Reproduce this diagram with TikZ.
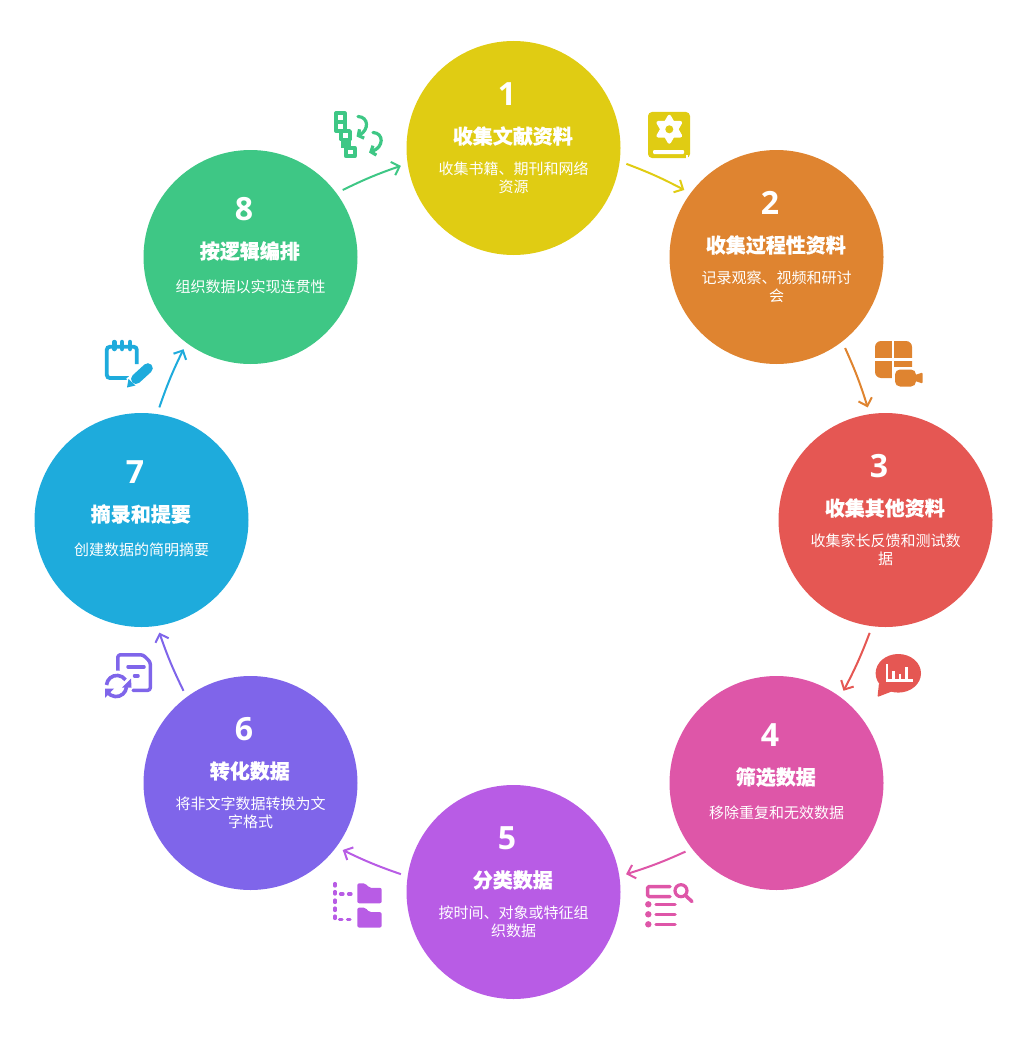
\documentclass[tikz,border=0pt]{standalone}
\usepackage{fontspec}
\setmainfont{Noto Sans CJK SC}[BoldFeatures={FakeBold=0.4}]
\newfontfamily\numfont{Open Sans}
\usetikzlibrary{arrows.meta}
\definecolor{yellow1}{HTML}{E0CC13}
\definecolor{orange1}{HTML}{DF8430}
\definecolor{red1}{HTML}{E55753}
\definecolor{pink1}{HTML}{DE56A8}
\definecolor{violet1}{HTML}{B85CE5}
\definecolor{purple1}{HTML}{7F65EA}
\definecolor{blue1}{HTML}{1EABDC}
\definecolor{green1}{HTML}{3EC785}
\tikzset{
  stepcircle/.style={circle,minimum size=214pt,inner sep=0pt,outer sep=7pt},
  numtext/.style={text=white,font=\numfont\fontsize{32}{36}\selectfont\bfseries,inner sep=0pt},
  titletext/.style={text=white,font=\fontsize{20}{24}\selectfont\bfseries,inner sep=0pt},
  desctext/.style={text=white,font=\fontsize{15}{18}\selectfont,align=center,inner sep=0pt},
  flowarrow/.style={line width=2pt,-{Straight Barb[length=7pt,width=14pt,line width=2pt]}},
  iconline/.style={line width=3.5pt,line cap=round,line join=round},
}

\begin{document}
\begin{tikzpicture}[x=1pt,y=-1pt]
  \useasboundingbox (0,0) rectangle (1028,1046);
  \foreach \n/\x/\y/\col/\dy/\title/\desc in {
    1/513.5/148/yellow1/0/收集文献资料/{收集书籍、期刊和网络\\资源},
    2/776.5/257/orange1/0/收集过程性资料/{记录观察、视频和研讨\\会},
    3/885.5/520/red1/0/收集其他资料/{收集家长反馈和测试数\\据},
    4/776.5/783/pink1/6/筛选数据/{移除重复和无效数据},
    5/513.5/892/violet1/0/分类数据/{按时间、对象或特征组\\织数据},
    6/250.5/783/purple1/0/转化数据/{将非文字数据转换为文\\字格式},
    7/141.5/520/blue1/6/摘录和提要/{创建数据的简明摘要},
    8/250.5/257/green1/6/按逻辑编排/{组织数据以实现连贯性}}
  {
    \node[stepcircle,fill=\col] (step\n) at (\x,\y) {};
    \node[numtext] (num\n) at (\x-6.5,\y-54+\dy) {\n};
    \node[titletext] (title\n) at (\x-0.7,\y-12+\dy) {\title};
    \node[desctext] (desc\n) at (\x,\y+30) {\desc};
  }
  \foreach \a/\b/\col/\out/\in in {1/2/yellow1/-8.6/144,2/3/orange1/-53.6/99,3/4/red1/-98.6/54,4/5/pink1/-143.6/9,
    5/6/violet1/171.4/-36,6/7/purple1/126.4/-81,7/8/blue1/81.4/-126,8/1/green1/36.4/189}
    \draw[flowarrow,\col] (step\a.\out) to[bend left=3.5] (step\b.\in);

  % book
  \fill[yellow1,rounded corners=4pt] (648,112) rectangle (690,158);
  \fill[white,rounded corners=1pt] (653,150) rectangle (684,154);
  \fill[white] (686,155) rectangle (687.5,159);
  \fill[white,draw=white,line width=3.5pt,line join=round] (669.3,116.5) -- (680.4,135.8) -- (658.2,135.8) -- cycle;
  \fill[white,draw=white,line width=3.5pt,line join=round] (669.3,142) -- (680.4,122.7) -- (658.2,122.7) -- cycle;
  \fill[yellow1] (669.3,129.3) circle (4);

  % grid and camera
  \fill[orange1,rounded corners=6pt] (875,341) rectangle (912,378);
  \fill[white] (892,340) rectangle (894,379);
  \fill[white] (874,358.3) rectangle (913,360.8);
  \fill[white] (894,366.5) rectangle (913,379);
  \fill[white,rounded corners=6pt] (893,367.5) rectangle (918,388.5);
  \fill[orange1,rounded corners=5pt] (895,369.5) rectangle (916,386.5);
  \fill[orange1,rounded corners=1pt] (915,375) -- (922.5,372.5) -- (922.5,383.5) -- (915,381) -- cycle;

  % chart bubble
  \fill[red1] (898.3,673.3) ellipse [x radius=22.7,y radius=19.3];
  \fill[red1,rounded corners=1pt] (879,683) -- (877.5,697) -- (893,691) -- cycle;
  \draw[white,line width=2.6pt] (887,664) -- (887,680.7) -- (912.5,680.7);
  \draw[white,line width=2.6pt] (893.5,671) -- (893.5,680) (900,674) -- (900,680) (906.3,667) -- (906.3,680);

  % list and magnifier
  \draw[iconline,pink1] (670,886.5) -- (649,886.5) -- (647.5,888) -- (647.5,895) -- (649,896.5) -- (670,896.5);
  \draw[line width=3.2pt,pink1] (681,890.7) circle (6);
  \draw[iconline,pink1] (686,896) -- (692,901.5);
  \foreach \y in {904.3,914.3,924.3} {
    \fill[pink1] (648.3,\y) circle (3.2);
    \draw[iconline,pink1] (656,\y) -- (675,\y);
  }

  % folders
  \draw[line width=3.2pt,line cap=round,violet1,dash pattern=on 2.5pt off 5.5pt] (335,883.5) -- (335,894) -- (355,894);
  \draw[line width=3.2pt,line cap=round,violet1,dash pattern=on 2.5pt off 5.5pt] (335,900) -- (335,919.5) -- (355,919.5);
  \foreach \y in {883.3,907.6}
    \fill[violet1,rounded corners=2pt] (357.3,\y) -- (365.5,\y) -- (369,\y+4.5) -- (381.7,\y+4.5) -- (381.7,\y+20) -- (357.3,\y+20) -- cycle;

  % document with refresh arrows
  \draw[iconline,purple1,rounded corners=2.5pt] (117.8,671) -- (117.8,654.8) -- (143,654.8) -- (150.3,662) -- (150.3,690.3) -- (133,690.3);
  \draw[iconline,purple1] (128,666.8) -- (144,666.8) (134.5,675.8) -- (138,675.8);
  \fill[white] (116.5,686) circle (15.5);
  \draw[line width=3.6pt,purple1] (106.5,685) arc[start angle=175,end angle=35,radius=10.5pt];
  \draw[line width=3.6pt,purple1] (126.5,687) arc[start angle=-5,end angle=-145,radius=10.5pt];
  \fill[purple1] (122,687.5) -- (131,678.5) -- (131.5,687.5) -- cycle;
  \fill[purple1] (105,688.5) -- (114,688.5) -- (105,698) -- cycle;

  % notepad and pencil
  \draw[line width=3.8pt,blue1,rounded corners=3pt] (131,378) -- (106.8,378) -- (106.8,346.8) -- (136.8,346.8) -- (136.8,364);
  \foreach \x in {114.3,122,130}
    \draw[line width=4.5pt,line cap=round,blue1] (\x,342) -- (\x,349);
  \draw[line width=14pt,white] (151,365.5) -- (131,384);
  \draw[line width=10pt,line cap=round,blue1] (147.8,368.2) -- (136,379);
  \fill[blue1] (127,387.5) -- (128.5,379) -- (135.5,385.5) -- cycle;

  % transfer blocks
  \foreach \cx/\cy in {340.3/117.5,340.3/126.7,345.5/135.3,350.3/152}
    \draw[line width=3.8pt,green1,line join=round] (\cx-4.4,\cy-4.2) rectangle (\cx+4.4,\cy+4.2);
  \fill[green1] (341,139) rectangle (351,148);
  \draw[line width=3.2pt,line cap=round,green1,-{Straight Barb[length=4pt,width=10pt,line width=3.2pt]}] (358,116.5) .. controls (369,117) and (369,130) .. (356.5,136.5);
  \draw[line width=3.2pt,line cap=round,green1,-{Straight Barb[length=4pt,width=10pt,line width=3.2pt]}] (373,132.5) .. controls (384,133) and (384,147) .. (369,152.5);
\end{tikzpicture}
\end{document}
